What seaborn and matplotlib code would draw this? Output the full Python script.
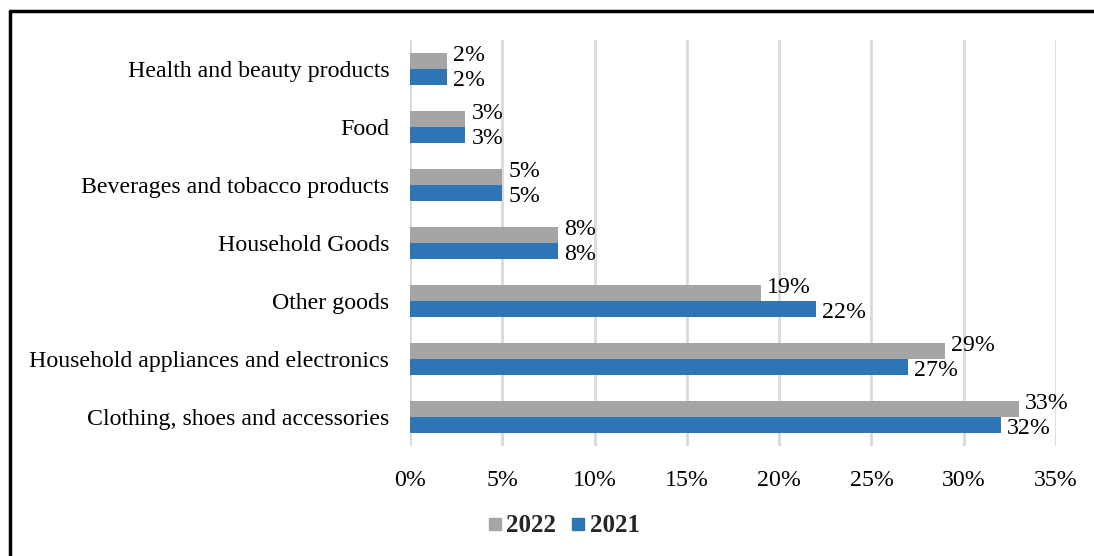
import pandas as pd
import numpy as np
import seaborn as sns
import matplotlib.pyplot as plt
from matplotlib.lines import Line2D

categories = ["Health and beauty products", "Food", "Beverages and tobacco products",
              "Household Goods", "Other goods", "Household appliances and electronics",
              "Clothing, shoes and accessories"]
values_2022 = [2, 3, 5, 8, 19, 29, 33]
values_2021 = [2, 3, 5, 8, 22, 27, 32]
years = ["2022", "2021"]
colors = {"2022": "#A5A5A5", "2021": "#2E75B6"}
x_ticks = [0, 5, 10, 15, 20, 25, 30, 35]

df = pd.DataFrame({
    "category": categories * 2,
    "year": ["2022"] * len(categories) + ["2021"] * len(categories),
    "share": values_2022 + values_2021,
})

sns.set_theme(style="white")
plt.rcParams["font.family"] = ["Liberation Serif", "DejaVu Serif"]
FS = 17.2

fig = plt.figure(figsize=(10.94, 5.56), dpi=100)
ax = fig.add_axes([0.3748, 0.198, 0.5905, 0.730])

sns.barplot(data=df, y="category", x="share", hue="year", hue_order=years,
            order=categories, palette=colors, orient="h", width=0.54,
            gap=0, saturation=1, linewidth=0, ax=ax, legend=False)

ax.set_xlim(0, 35)
ax.set_xticks(x_ticks)
ax.set_xticklabels([f"{t}%" for t in x_ticks], fontsize=FS, color="black")
ax.tick_params(axis="y", labelsize=FS, labelcolor="black", length=0, pad=15)
ax.tick_params(axis="x", length=0, pad=17)
ax.set_xlabel("")
ax.set_ylabel("")
ax.grid(axis="x", color="#D9D9D9", linewidth=2)
ax.set_axisbelow(True)
for s in ax.spines.values():
    s.set_visible(False)

# data labels: 2022 raised, 2021 lowered a little
for container, year in zip(ax.containers, years):
    dy = 6 if year == "2022" else -4
    for bar in container:
        w = bar.get_width()
        ax.annotate(f"{w:.0f}%", (w, bar.get_y() + bar.get_height() / 2),
                    xytext=(6, dy), textcoords="offset pixels",
                    ha="left", va="center", fontsize=FS, color="black")

handles = [Line2D([], [], marker="s", linestyle="none", markersize=8,
                  markerfacecolor=colors[y], markeredgecolor=colors[y]) for y in years]
fig.legend(handles, years, loc="center", bbox_to_anchor=(0.515, 0.054), ncol=2,
           frameon=False, handlelength=0.6, handletextpad=0.15, columnspacing=0.6,
           prop={"weight": "bold", "size": 18})

# outer border
fig.add_artist(Line2D([9.5 / 1094, 1], [1 - 11 / 556, 1 - 11 / 556],
                      transform=fig.transFigure, color="black", linewidth=2.5))
fig.add_artist(Line2D([9.5 / 1094, 9.5 / 1094], [0, 1 - 11 / 556],
                      transform=fig.transFigure, color="black", linewidth=2.5))

fig.savefig("out.png", dpi=100, facecolor="white")
